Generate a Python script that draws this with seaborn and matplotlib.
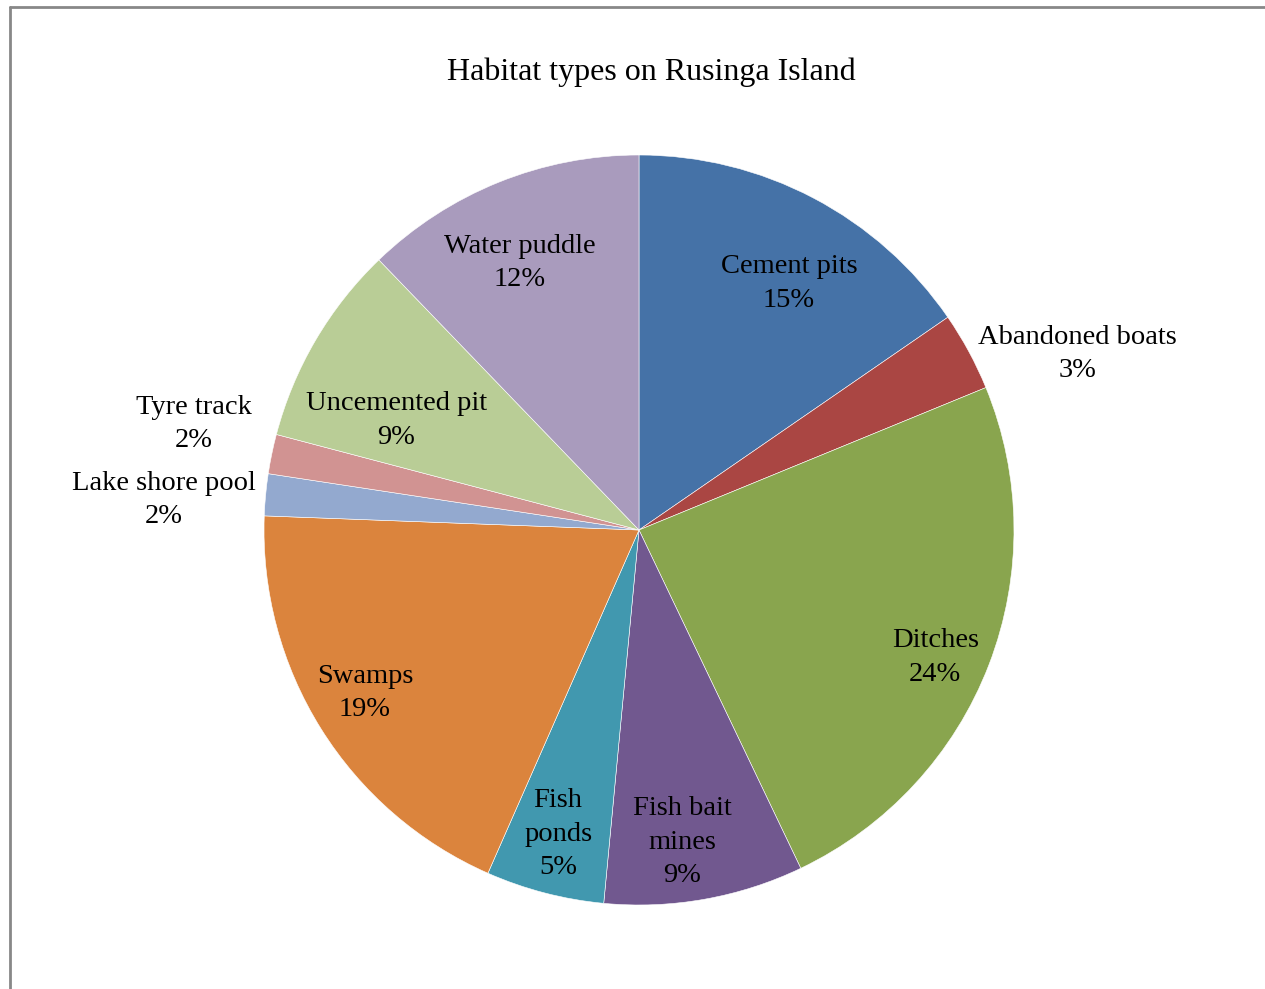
import matplotlib.pyplot as plt
import seaborn as sns
import numpy as np
from matplotlib.lines import Line2D

# slices, clockwise from 12 o'clock
habitats = ["Cement pits", "Abandoned boats", "Ditches", "Fish bait\nmines", "Fish\nponds",
            "Swamps", "Lake shore pool", "Tyre track", "Uncemented pit", "Water puddle"]
shares = [15.4, 3.4, 24.1, 8.6, 5.1, 19.0, 1.8, 1.7, 8.7, 12.2]
colors = ["#4572A7", "#AA4643", "#89A54E", "#71588F", "#4198AF",
          "#DB843D", "#93A9CF", "#D19392", "#B9CD96", "#A99BBD"]

# label placement: distance from centre (fraction of radius) and angle nudge (deg, clockwise)
label_dist = [0.77, 1.26, 0.86, 0.84, 0.84, 0.85, 1.27, 1.22, 0.71, 0.78]
label_nudge = [3.6, 6.6, 2.2, 2.2, 0.3, 1.3, -1.8, 1.7, -6.1, -2.1]

sns.set_style("white")
plt.rcParams["font.family"] = ["Liberation Serif", "DejaVu Serif"]

fig = plt.figure(figsize=(12.65, 9.89), dpi=100)
ax = fig.add_axes([264 / 1265, 1 - 905 / 989, 750 / 1265, 750 / 989])

wedges, _ = ax.pie(shares, colors=colors, startangle=90, counterclock=False,
                   radius=1, wedgeprops=dict(linewidth=0.4, edgecolor="white"))
ax.set_xlim(-1, 1)
ax.set_ylim(-1, 1)
ax.set_aspect("equal")
ax.axis("off")

total = sum(shares)
for w, name, val, d, nudge in zip(wedges, habitats, shares, label_dist, label_nudge):
    mid = np.deg2rad((w.theta1 + w.theta2) / 2 - nudge)
    x, y = d * np.cos(mid), d * np.sin(mid)
    pct = round(val / total * 100)
    ax.text(x, y, f"{name}\n{pct}%", ha="center", va="center",
            fontsize=20.5, linespacing=1.45, color="black")

fig.text(651 / 1265, 1 - 72 / 989, "Habitat types on Rusinga Island",
         ha="center", va="center", fontsize=23, color="black")

# chart border (only top and left visible in the crop)
fig.add_artist(Line2D([9.5 / 1265, 1], [1 - 7 / 989, 1 - 7 / 989], color="#888888", lw=2))
fig.add_artist(Line2D([9.5 / 1265, 9.5 / 1265], [0, 1 - 7 / 989], color="#888888", lw=2))

fig.savefig("out.png", dpi=100)
